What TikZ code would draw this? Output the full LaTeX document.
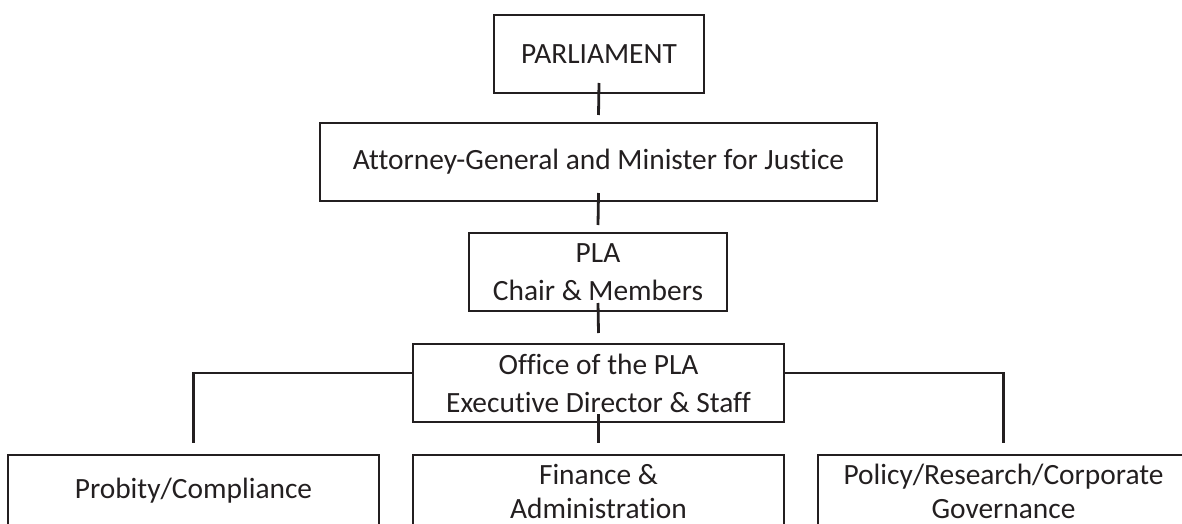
\documentclass[tikz,border=0pt]{standalone}
\usepackage{fontspec}
\setmainfont{Carlito}[Ligatures={NoCommon}]
\usepackage{tikz}
\usetikzlibrary{chains,positioning}
\definecolor{orgline}{HTML}{231F20}

\begin{document}
\begin{tikzpicture}[x=0.5pt, y=-0.5pt,
node distance=17pt,
 start chain = B going right,
    X/.style = {rectangle, draw=orgline, line width=1.4pt,% styles of upper boxes
                minimum height=39pt, align=center, text=orgline,
                font=\fontsize{14.7}{19}\selectfont, outer sep=0pt},
    Y/.style = {X, minimum width=185.5pt, minimum height=36pt,% styles of nodes in bottom row (chain)
                font=\fontsize{14.7}{17}\selectfont, on chain},
    link/.style = {draw=orgline, line width=1.4pt},
                        ]
\useasboundingbox (0,0) rectangle (1182,524);
\clip (0,0) rectangle (1182,524);
\node[X, minimum width=105pt]   (P) at (599,54)    {PARLIAMENT};
\node[X, minimum width=278.5pt] (A) at (598.5,162) {Attorney-General and Minister for Justice};
\node[X, minimum width=129pt]   (L) at (598,272)   {PLA\\Chair \& Members};
\node[X, minimum width=185.5pt] (O) at (598.5,383) {Office of the PLA\\Executive Director \& Staff};
\node[Y] at (193.5,491) {Probity/Compliance};
\foreach \i in {Finance \&\\Administration,Policy/Research/Corporate\\Governance}% <-- content of nodes
    \node[Y] {\i};
\draw[link] ([yshift=5pt]P.south) -- ([yshift=4pt]A.north);
\draw[link] ([yshift=4pt]A.south) -- ([yshift=4pt]L.north);
\draw[link] ([yshift=4pt]L.south) -- ([yshift=5.5pt]O.north);
\draw[link] ([yshift=4pt]O.south) -- ([yshift=6pt]B-2.north);
\draw[link] ([yshift=5pt]O.west) -| ([yshift=6pt]B-1.north);
\draw[link] ([yshift=5pt]O.east) -| ([yshift=6pt]B-3.north);
\end{tikzpicture}
\end{document}
